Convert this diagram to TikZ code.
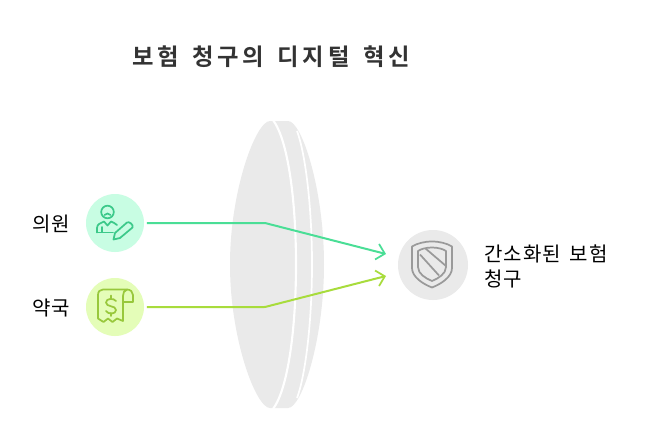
\documentclass[tikz,border=0pt]{standalone}
\usetikzlibrary{arrows.meta}
\usepackage{fontspec}
\setmainfont{Noto Sans CJK KR}
\newfontfamily\titlefont[LetterSpace=16,WordSpace=1.5,BoldFont={Noto Sans CJK KR Bold}]{Noto Sans CJK KR}
\newfontfamily\labelfont[LetterSpace=5,WordSpace=1.6]{Noto Sans CJK KR}
\definecolor{lensc}{HTML}{EAEAEA}
\definecolor{greenfill}{HTML}{C8FDE3}
\definecolor{limefill}{HTML}{E4FDB8}
\definecolor{greenc}{HTML}{4ADE96}
\definecolor{limec}{HTML}{A8DC3C}
\definecolor{greenicon}{HTML}{3CC98A}
\definecolor{limeicon}{HTML}{98C83C}
\definecolor{shieldc}{HTML}{9A9A9A}
\definecolor{textc}{HTML}{333333}
\begin{document}
\begin{tikzpicture}[x=0.75pt,y=-0.75pt,
  disc/.style={circle,inner sep=0pt,minimum size=43.5pt},
  conn/.style={line width=1.5pt,-{Straight Barb[length=6pt,width=12pt,line width=1.3pt]},rounded corners=0.5pt},
  icong/.style={draw=greenicon,line width=1.3pt,line join=round,line cap=round},
  iconl/.style={draw=limeicon,line width=1.3pt,line join=round,line cap=round},
  icons/.style={draw=shieldc,line width=1.3pt,line join=round},
  lab/.style={font=\labelfont\fontsize{15pt}{17pt}\selectfont,text=black,inner sep=0pt}]
\useasboundingbox (0,0) rectangle (662,422);
\fill[white] (0,0) rectangle (662,422);
% lens
\fill[lensc] (270,121) .. controls (256,121) and (230,190) .. (230,264.5)
  .. controls (230,339) and (256,408) .. (270,408) -- (288,408)
  .. controls (302,408) and (324,339) .. (324,264.5)
  .. controls (324,190) and (302,121) .. (288,121) -- cycle;
\draw[white,line width=1.6pt] (273,120) .. controls (288,140) and (296,200) .. (296,264.5)
  .. controls (296,329) and (288,389) .. (273,409);
\draw[white,line width=1.3pt] (297,131) .. controls (305,152) and (312,205) .. (312,264.5)
  .. controls (312,324) and (305,377) .. (297,398);
% title
\node[font=\titlefont\bfseries\fontsize{17.5pt}{20pt}\selectfont,text=textc,inner sep=0pt] (title) at (271,57) {보험 청구의 디지털 혁신};
% discs
\node[disc,fill=greenfill] (clinic) at (115,223) {};
\node[disc,fill=limefill] (pharm) at (115,307) {};
\node[circle,inner sep=0pt,minimum size=52.5pt,fill=lensc] (result) at (433,265) {};
% labels
\node[lab] (l1) at (51,224) {의원};
\node[lab] (l2) at (51,308) {약국};
\node[lab,anchor=west,align=left,font=\labelfont\fontsize{15pt}{18.75pt}\selectfont] (l3) at (484,266) {간소화된 보험\\청구};
% connectors
\coordinate (b1) at (265,223);
\coordinate (b2) at (265,307);
\coordinate (t1) at (386,254);
\coordinate (t2) at (386,276);
\draw[conn,greenc] ([xshift=2]clinic.east) -- (b1) -- (t1);
\draw[conn,limec] ([xshift=2]pharm.east) -- (b2) -- (t2);
% person icon
\draw[icong] (107.5,212) circle (6.3);
\draw[icong] (104.5,215) .. controls (106,213) and (109,213) .. (110.5,215);
\draw[icong] (97,232.5) -- (97,228) .. controls (97,224) and (101,223) .. (104,221.5) -- (107.5,225.5) -- (111,221.5) .. controls (113,222.5) and (115,223) .. (117,225);
\draw[icong] (97,232.5) -- (113,232.5);
\draw[icong] (102,232) -- (102,227);
\draw[icong] (113.5,239.5) -- (115,233) -- (127,222.5) .. controls (129,221) and (134,225) .. (132.5,227.5) -- (120,238) -- cycle;
% receipt icon
\draw[iconl] (103,289.5) -- (127,289.5) .. controls (124,290.5) and (123,293) .. (123,296) -- (123,321) -- (117,318.5) -- (112.5,322) -- (108,318.5) -- (103.5,322) -- (98,318.5) -- (98,295) .. controls (98,291.5) and (100,289.5) .. (103,289.5);
\draw[iconl] (127,289.5) .. controls (130.5,289.5) and (133,292) .. (133,295) -- (133,302) -- (123,302);
\draw[iconl] (116,301) .. controls (114,298) and (106,298) .. (106,302.5) .. controls (106,307.5) and (116,305) .. (116,310) .. controls (116,314.5) and (108,314.5) .. (106,311);
\draw[iconl] (111,295.5) -- (111,298.5);
\draw[iconl] (111,313) -- (111,316);
% shield icon
\draw[icons] (432,241.5) .. controls (424,241.5) and (417,243.5) .. (412,246.5) -- (412,268) .. controls (412,277) and (423,284) .. (432,287.5) .. controls (441,284) and (452,277) .. (452,268) -- (452,246.5) .. controls (447,243.5) and (440,241.5) .. (432,241.5) -- cycle;
\draw[icons] (432,247.5) .. controls (426,247.5) and (421,249) .. (418,251) -- (418,267) .. controls (418,274) and (426,278.5) .. (432,281) .. controls (438,278.5) and (446,274) .. (446,267) -- (446,251) .. controls (443,249) and (438,247.5) .. (432,247.5) -- cycle;
\draw[icons] (420,254.5) -- (439,275.5);
\draw[icons] (425.5,248.5) -- (446,266);
\end{tikzpicture}
\end{document}
